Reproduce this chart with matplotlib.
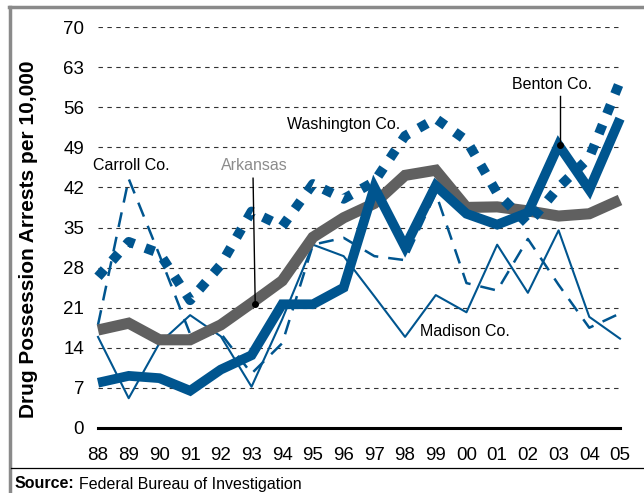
import matplotlib
matplotlib.use("Agg")
import matplotlib.pyplot as plt
from matplotlib.lines import Line2D

plt.rcParams['font.family'] = ['Liberation Sans', 'DejaVu Sans']

# data (arrests per 10,000)
years = ["88", "89", "90", "91", "92", "93", "94", "95", "96",
         "97", "98", "99", "00", "01", "02", "03", "04", "05"]
arkansas = [17.1, 18.3, 15.4, 15.4, 18.0, 21.8, 25.7, 33.3, 36.7,
            39.2, 44.1, 45.0, 38.5, 38.6, 37.9, 37.0, 37.4, 39.8]
benton = [7.9, 9.1, 8.7, 6.5, 10.2, 12.7, 21.6, 21.6, 24.5,
          42.0, 31.6, 42.3, 37.4, 35.5, 37.6, 49.4, 41.6, 54.0]
washington = [26.4, 32.5, 30.5, 22.3, 28.5, 37.8, 35.2, 42.6, 40.0,
              43.0, 51.0, 54.0, 50.2, 41.0, 35.6, 42.0, 47.2, 60.5]
carroll = [18.0, 43.5, 30.2, 16.4, 16.5, 9.5, 14.8, 32.0, 33.2,
           30.0, 29.3, 41.0, 25.3, 24.0, 33.0, 25.0, 17.5, 20.0]
madison = [15.9, 5.2, 14.8, 19.7, 16.0, 7.2, 19.0, 32.0, 30.0,
           23.0, 15.9, 23.2, 20.2, 32.0, 23.6, 34.5, 19.4, 15.6]
yticks = [0, 7, 14, 21, 28, 35, 42, 49, 56, 63, 70]

blue = "#00558f"
grey = "#606060"
W, H = 644, 493

fig = plt.figure(figsize=(W / 100, H / 100), dpi=100)
ax = fig.add_axes([98 / W, (H - 428) / H, (620 - 98) / W, (428 - 27) / H])
x = list(range(len(years)))
ax.set_xlim(0, len(years) - 1)
ax.set_ylim(0, 70)
for s in ax.spines.values():
    s.set_visible(False)

# dashed grid
for v in yticks[1:]:
    ax.axhline(v, color="#333333", lw=0.8, ls=(0, (4, 4)), zorder=1)
ax.axhline(0, color="black", lw=2.2, zorder=2, clip_on=False)

ax.plot(x, madison, color=blue, lw=1.5, zorder=3, clip_on=False)
ax.plot(x, carroll, color=blue, lw=1.8, dashes=(6, 4), zorder=3, clip_on=False)
ax.plot(x, arkansas, color=grey, lw=8, zorder=4, solid_joinstyle="miter",
        solid_capstyle="butt", clip_on=False)
ax.plot(x, washington, color=blue, lw=7, dashes=(1, 1.2), dash_capstyle="butt",
        zorder=5, clip_on=False)
ax.plot(x, benton, color=blue, lw=7, zorder=6, solid_joinstyle="miter",
        solid_capstyle="butt", clip_on=False)

ax.set_xticks(x)
ax.set_xticklabels(years)
ax.set_yticks(yticks)
ax.tick_params(length=0, labelsize=13.5, pad=10)
ax.tick_params(axis="x", pad=14)
ax.set_ylabel("Drug Possession Arrests per 10,000", fontsize=15,
              fontweight="bold")
ax.yaxis.set_label_coords(-0.115, 0.47)

# labels
ax.text(1.1, 45.9, "Carroll Co.", fontsize=11.5, ha="center", va="center")
ax.text(5.1, 45.9, "Arkansas", fontsize=11.5, ha="center", va="center",
        color="#8c8c8c")
ax.plot([5.05, 5.12], [43.6, 21.7], color="black", lw=1, zorder=7)
ax.plot([5.12], [21.7], "o", color="black", ms=4, zorder=7)
ax.text(8.0, 52.9, "Washington Co.", fontsize=11.5, ha="center", va="center")
ax.text(14.8, 59.9, "Benton Co.", fontsize=11.5, ha="center", va="center")
ax.plot([15.05, 15.05], [57.9, 49.4], color="black", lw=1, zorder=7)
ax.plot([15.05], [49.4], "o", color="black", ms=4, zorder=7)
ax.text(11.95, 16.8, "Madison Co.", fontsize=11.5, ha="center", va="center")

# frame and source line
fig.add_artist(Line2D([10 / W, 10 / W], [0, 1 - 7 / H], color="#8a8a8a", lw=2.5))
fig.add_artist(Line2D([9 / W, 1], [1 - 7 / H, 1 - 7 / H], color="#8a8a8a", lw=2.5))
fig.add_artist(Line2D([11 / W, 1], [1 - 468 / H, 1 - 468 / H], color="black", lw=0.9))

t = fig.text(15 / W, 1 - 484 / H, "Source:", fontsize=11.5, fontweight="bold",
             va="center")
r = fig.canvas.get_renderer()
bb = t.get_window_extent(r)
fig.text(bb.x1 / W + 4 / W, 1 - 484 / H, "Federal Bureau of Investigation",
         fontsize=11.5, va="center")

fig.savefig("out.png", dpi=100)
